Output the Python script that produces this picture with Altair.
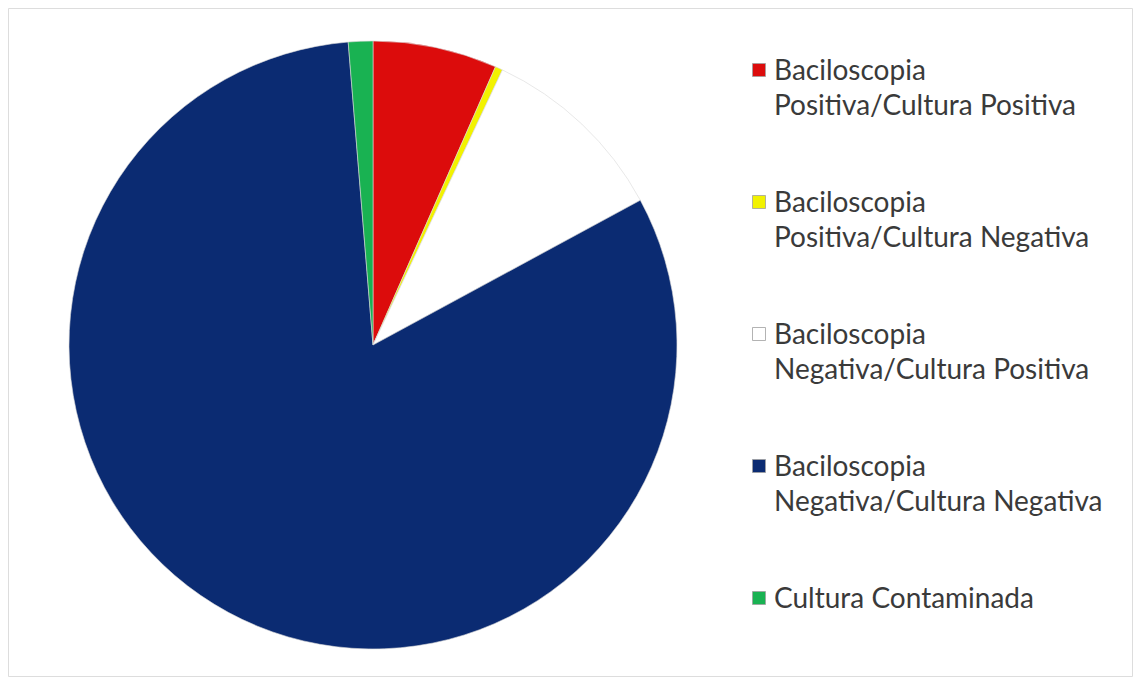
import altair as alt
import pandas as pd

categories = [
    "Baciloscopia|Positiva/Cultura Positiva",
    "Baciloscopia|Positiva/Cultura Negativa",
    "Baciloscopia|Negativa/Cultura Positiva",
    "Baciloscopia|Negativa/Cultura Negativa",
    "Cultura Contaminada",
]
values = [6.6, 0.4, 10.1, 81.6, 1.3]
colors = ["#dc0c0c", "#f2f200", "#ffffff", "#0b2b72", "#19b252"]
order = [0, 1, 2, 3, 4]

df = pd.DataFrame({"categoria": categories, "valor": values, "ordem": order})

pie = alt.Chart(df).mark_arc(
    outerRadius=304, stroke="#d8d8d8", strokeWidth=0.6
).encode(
    theta=alt.Theta("valor:Q", stack=True),
    order=alt.Order("ordem:Q"),
    x=alt.value(365),
    y=alt.value(337),
    color=alt.Color(
        "categoria:N",
        sort=categories,
        scale=alt.Scale(domain=categories, range=colors),
        legend=alt.Legend(
            title=None,
            orient="none",
            legendX=737,
            legendY=48,
            symbolType="square",
            symbolSize=169,
            symbolStrokeColor="#a0a0a0",
            symbolStrokeWidth=0.8,
            labelFont="Lato",
            labelFontSize=28,
            labelColor="#3a3a3a",
            labelLimit=500,
            labelOffset=1,
            labelBaseline="alphabetic",
            rowPadding=67,
            labelExpr="split(datum.label, '|')",
        ),
    ),
)

chart = pie.properties(
    width=1124,
    height=668,
    padding={"left": 8, "top": 8, "right": 2, "bottom": 3},
    autosize=alt.AutoSizeParams(type="none"),
    background="white",
).configure_view(
    stroke="#8a8a8a", strokeWidth=2
).configure(
    style={"guide-label": {"lineHeight": 35, "dy": 10}}
)

chart.save("out.html", embed_options={"renderer": "svg", "actions": False})
